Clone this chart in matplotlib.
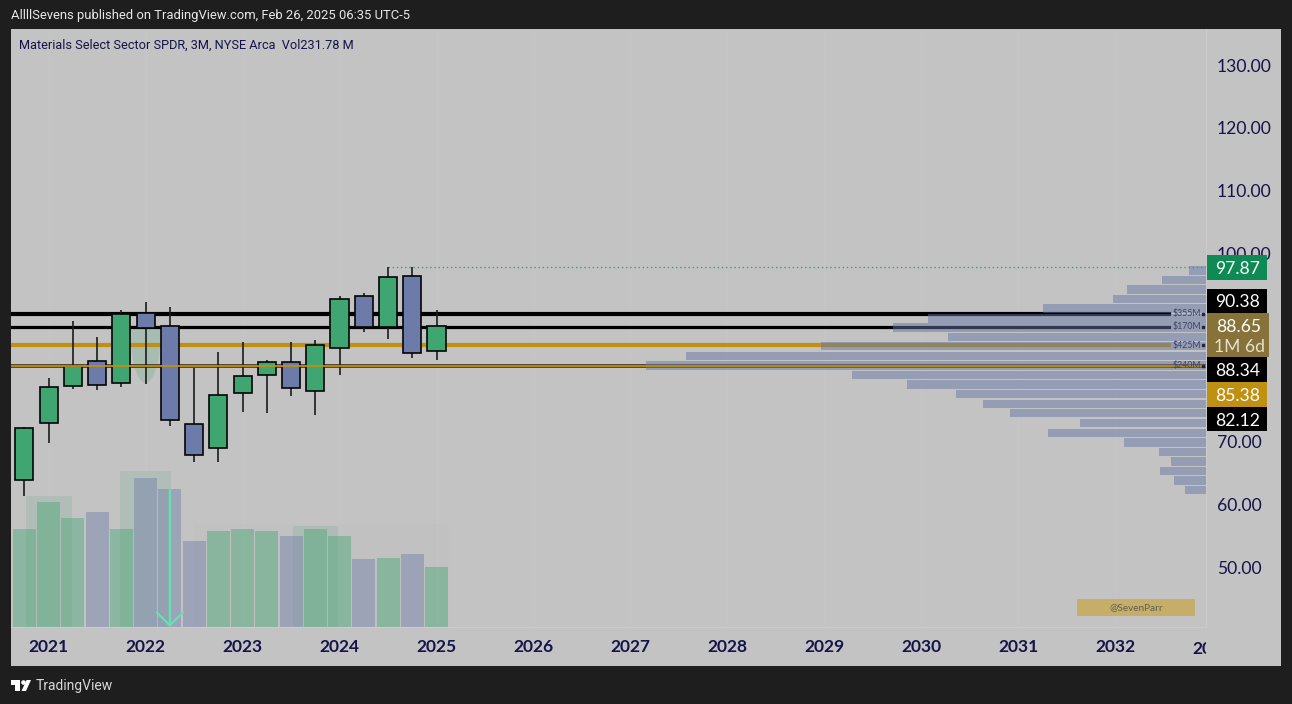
import matplotlib
matplotlib.use("Agg")
import matplotlib.pyplot as plt
from matplotlib.patches import Rectangle, Ellipse, Polygon, Circle
from matplotlib.transforms import IdentityTransform

plt.rcParams['font.family'] = ['Lato', 'DejaVu Sans']

# quarterly candles
opens = [63.90, 72.97, 78.86, 82.84, 79.44, 90.53, 88.46, 72.81, 69.04, 77.74, 80.71, 82.68, 78.17, 84.91, 93.18, 88.35, 96.37, 84.54]
closes = [72.23, 78.70, 82.15, 79.02, 90.42, 88.14, 73.55, 67.98, 77.53, 80.50, 82.73, 78.54, 85.44, 92.81, 88.25, 96.26, 84.11, 88.46]
highs = [72.44, 80.13, 89.26, 86.66, 91.01, 92.33, 91.54, 81.83, 84.32, 85.86, 83.05, 85.86, 86.29, 93.18, 93.77, 97.85, 97.85, 91.01]
lows = [61.46, 69.89, 78.43, 78.27, 78.81, 79.23, 72.55, 66.76, 66.76, 74.72, 74.61, 77.27, 74.24, 80.72, 87.45, 86.34, 83.31, 83.05]
volumes = [379.9, 482.9, 421.0, 443.0, 380.0, 575.6, 531.8, 332.2, 370.9, 379.9, 369.6, 351.5, 379.9, 350.3, 262.7, 265.3, 282.0, 231.78]

# yearly volume blocks behind the bars
block_centers = [1, 5, 12]
block_widths = [1.9, 2.1, 1.85]
block_volumes = [505, 602.6, 389]
faint_block = (7, 17.5, 399)

# volume profile on the right
profile_prices = [97.29, 95.78, 94.27, 92.76, 91.21, 89.65, 88.22, 86.71, 85.28, 83.68, 82.17, 80.66,
                  79.15, 77.64, 76.05, 74.61, 73.02, 71.43, 69.92, 68.41, 66.89, 65.38, 63.87, 62.36]
profile_sizes = [17, 44, 79, 93, 163, 278, 313, 258, 385, 520, 560, 354,
                 299, 250, 223, 196, 126, 158, 82, 47, 35, 46, 32, 21]

level_prices = [90.38, 88.34, 85.38, 82.12]
level_notes = ['$355M', '$170M', '$425M', '$240M']
last_close = 88.65
high_price = 97.87
countdown = '1M 6d'

price_ticks = [130, 120, 110, 100, 70, 60, 50]
year_labels = list(range(2021, 2034))

GREEN = '#3FA672'
BLUE = '#6C7BAA'
GOLD = '#C09012'
NAVY = '#14144A'
W, H = 1292, 704

fig = plt.figure(figsize=(W / 100, H / 100), dpi=100, facecolor='#1E1E1E')
fig.patches.append(Rectangle((11 / W, 1 - 666 / H), 1270 / W, 637 / H, transform=fig.transFigure,
                             facecolor='#C3C3C3', edgecolor='none', zorder=0))

ax = fig.add_axes([11 / W, 1 - 627 / H, 1195 / W, 598 / H])
ax.set_xlim(-0.553, 48.74)
ax.set_ylim(40.55, 135.73)
ax.patch.set_visible(False)
ax.set_zorder(2)

# volume pane, same x, its own scale
ax_vol = ax.twinx()
ax_vol.set_ylim(0, 2310)
ax_vol.set_zorder(1)
ax_vol.patch.set_visible(False)
ax_vol.axis('off')

# profile grows leftwards from the price scale
ax_prof = ax.twiny()
ax_prof.set_xlim(1195, 0)
ax_prof.set_zorder(3)
ax_prof.patch.set_visible(False)
ax_prof.axis('off')

colors = [GREEN if c >= o else BLUE for o, c in zip(opens, closes)]
xs = list(range(len(opens)))

for v in range(1, 49, 4):
    ax_vol.axvline(v, color='#C6C6C6', lw=0.7, zorder=0)

ax_vol.bar(block_centers, block_volumes, width=block_widths, color=GREEN, alpha=0.14, zorder=1)
ax_vol.bar((faint_block[0] + faint_block[1]) / 2, faint_block[2], width=faint_block[1] - faint_block[0],
           color='#7F9088', alpha=0.035, zorder=1)
ax_vol.bar(xs, volumes, width=0.95, color=colors, alpha=0.42, zorder=2)

# arrow from the 2022 candle down to the pane floor
ax_vol.annotate('', xy=(6, 0), xytext=(6, 530), zorder=5,
                arrowprops=dict(arrowstyle='->,head_length=0.94,head_width=0.94', color='#62E3B0', lw=1.6,
                                shrinkA=0, shrinkB=0))

# pale half round blob behind the 2022 candle
blob = Ellipse((5, 88.14), 1.28, 17.5, color=GREEN, alpha=0.2, lw=0, zorder=1)
ax.add_patch(blob)
blob.set_clip_path(Rectangle((4, 78), 2, 10.14, transform=ax.transData))

# support / resistance levels, they stop where the note text starts
ax.axhline(level_prices[0], xmax=1158 / 1195, color='black', lw=3.0, zorder=2)
ax.axhline(level_prices[1], xmax=1158 / 1195, color='black', lw=2.3, zorder=2)
ax.axhline(level_prices[2], xmax=1158 / 1195, color=GOLD, lw=3.0, zorder=2)
ax.axhline(level_prices[3], color='#3A2E10', lw=2.6, zorder=2)
ax_prof.axhline(level_prices[3], color=GOLD, lw=1.3, zorder=6)

ax.hlines(high_price, 15, 48.74, color='#3D9D8A', lw=1.0, linestyles=(0, (1, 2)), zorder=2)

ax.vlines(xs, lows, highs, color='#1C1C1C', lw=1.2, zorder=3)
ax.bar(xs, [abs(c - o) for o, c in zip(opens, closes)], bottom=[min(o, c) for o, c in zip(opens, closes)],
       width=0.75, color=colors, edgecolor='#050505', linewidth=1.2, zorder=4)

ax_prof.barh(profile_prices, profile_sizes, height=1.37, left=0, color='#6676A7', alpha=0.49, lw=0, zorder=3)
for price, note in zip(level_prices, level_notes):
    ax_prof.text(33, price, note, fontsize=6.3, color='#3C4460', va='center', ha='left', zorder=7)
    ax_prof.plot([2.5], [price], marker='s', ms=2, color='#20263A', zorder=7)

for s in ax.spines.values():
    s.set_visible(False)
ax.spines['right'].set_visible(True)
ax.spines['right'].set_color('#CBCBCB')
ax.spines['bottom'].set_visible(True)
ax.spines['bottom'].set_color('#CBCBCB')

ax.yaxis.tick_right()
ax.set_yticks(price_ticks)
ax.set_yticklabels([f'{p:.2f}' for p in price_ticks], fontsize=12.6, color=NAVY, va='center_baseline')
ax.tick_params(axis='y', length=0, pad=8)
ax.set_xticks(range(1, 48, 4))
ax.set_xticklabels(year_labels[:-1], fontsize=12.5, color=NAVY, fontweight='bold')
ax.tick_params(axis='x', length=0, pad=8.5)

# the last year label is cut off by the price scale
last = ax.text(49, -0.024, str(year_labels[-1]), transform=ax.get_xaxis_transform(), fontsize=12.5, color=NAVY,
               fontweight='bold', ha='center', va='top', clip_on=True)
last.set_clip_box(ax.bbox.frozen().expanded(1, 1.2))


def px_box(y0, y1, color, x1=1267):
    ax_prof.add_patch(Rectangle((1207, H - y1), x1 - 1207, y1 - y0, transform=IdentityTransform(),
                                facecolor=color, edgecolor='none', clip_on=False, zorder=8))


def px_text(x, y, s, **kw):
    fig.text(x / W, 1 - y / H, s, **kw)


label_style = dict(ha='center', va='center_baseline', fontsize=12.6, zorder=9)
for y0, y1, color, value in [(255, 280, '#0E8A55', high_price), (288.5, 313, 'black', level_prices[0]),
                             (357, 382, 'black', level_prices[1]), (382, 406.5, GOLD, level_prices[2]),
                             (407, 431, 'black', level_prices[3])]:
    px_box(y0, y1, color)
    ax_prof.text(1238, H - (y0 + y1) / 2, f'{value:.2f}', transform=IdentityTransform(), color='white',
                 clip_on=False, **label_style)
px_box(313, 357, '#877339', x1=1269)
ax_prof.text(1239, H - 325, f'{last_close:.2f}', transform=IdentityTransform(), color='white', clip_on=False, **label_style)
ax_prof.text(1239, H - 345.5, countdown, transform=IdentityTransform(), color='#E6E0CC', clip_on=False, **label_style)

# watermark box
ax_prof.add_patch(Rectangle((1077, H - 616), 118, 17, transform=IdentityTransform(), facecolor='#C7AE68',
                            edgecolor='none', clip_on=False, zorder=8))
ax_prof.text(1136, H - 607.5, '@SevenParr', transform=IdentityTransform(), fontsize=7.2, color='#5E5E58',
             ha='center', va='center', zorder=9)

small_text = ['Roboto', 'DejaVu Sans']
px_text(11, 15, 'AllllSevens published on TradingView.com, Feb 26, 2025 06:35 UTC-5', fontsize=9.4,
        color='#E8E8E8', va='center', family=small_text)
px_text(19, 45.5, 'Materials Select Sector SPDR, 3M, NYSE Arca  Vol231.78 M', fontsize=9.2,
        color=NAVY, va='center', family=small_text)
px_text(36, 686, 'TradingView', fontsize=10, color='#D8D8D8', va='center', family=small_text)

# footer logo
fig.patches.append(Rectangle((11 / W, 1 - 685 / H), 9 / W, 5 / H, transform=fig.transFigure, facecolor='white', edgecolor='none'))
fig.patches.append(Rectangle((15 / W, 1 - 691 / H), 5 / W, 11 / H, transform=fig.transFigure, facecolor='white', edgecolor='none'))
fig.patches.append(Circle((23.5, H - 682.5), 2.3, transform=IdentityTransform(), facecolor='white', edgecolor='none'))
fig.patches.append(Polygon([(26 / W, 1 - 691 / H), (31 / W, 1 - 680 / H), (26.5 / W, 1 - 680 / H), (21.5 / W, 1 - 691 / H)],
                           transform=fig.transFigure, facecolor='white', edgecolor='none'))

fig.savefig('out.png', dpi=100, facecolor=fig.get_facecolor())
